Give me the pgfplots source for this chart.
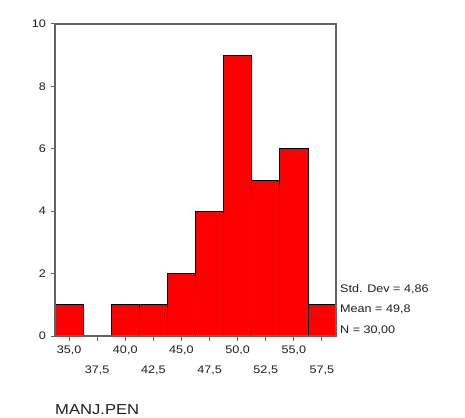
\documentclass[border=0pt]{standalone}
\usepackage{fontspec}
\setmainfont{Liberation Sans}[FakeStretch=1.15]
\usepackage{pgfplots}
\pgfplotsset{compat=1.18}
\definecolor{axgray}{RGB}{100,100,100}
\definecolor{txt}{RGB}{30,30,30}
\begin{document}
\begin{tikzpicture}[x=1bp,y=1bp]
\useasboundingbox (0,0) rectangle (465,417);
\begin{axis}[
  at={(55bp,81bp)}, anchor=south west,
  width=281bp, height=312bp, scale only axis,
  xmin=33.75, xmax=58.75, ymin=0, ymax=10,
  axis line style={axgray, line width=1.4bp},
  tick style={axgray, line width=1bp},
  tick align=outside, major tick length=4.5bp,
  tick pos=left,
  xtick={35,40,45,50,55},
  xticklabels={{35,0},{40,0},{45,0},{50,0},{55,0}},
  extra x ticks={37.5,42.5,47.5,52.5,57.5},
  extra x tick labels={{37,5},{42,5},{47,5},{52,5},{57,5}},
  extra x tick style={xticklabel style={yshift=-20.5bp}},
  ytick={0,2,4,6,8,10},
  yticklabels={0,2,4,6,8,10},
  ticklabel style={font=\fontsize{11}{13}\selectfont, text=txt},
  xticklabel style={yshift=-1.5bp},
  yticklabel style={xshift=-1bp},
  clip=false,
  axis on top,
]
\addplot[ybar, bar width=2.5, fill=red, draw=black, line width=0.8bp]
  coordinates {(35,1) (40,1) (42.5,1) (45,2) (47.5,4) (50,9) (52.5,5) (55,6) (57.5,1)};
\end{axis}
\begin{scope}[font=\fontsize{11}{13}\selectfont, text=txt]
\node[anchor=base west, inner sep=0] at (340,125) {Std. Dev = 4,86};
\node[anchor=base west, inner sep=0] at (340,104.5) {Mean = 49,8};
\node[anchor=base west, inner sep=0] at (340,84) {N = 30,00};
\end{scope}
\node[anchor=base west, inner sep=0, text=txt, font=\fontsize{14.5}{17}\selectfont] at (55,3) {MANJ.PEN};
\end{tikzpicture}
\end{document}
